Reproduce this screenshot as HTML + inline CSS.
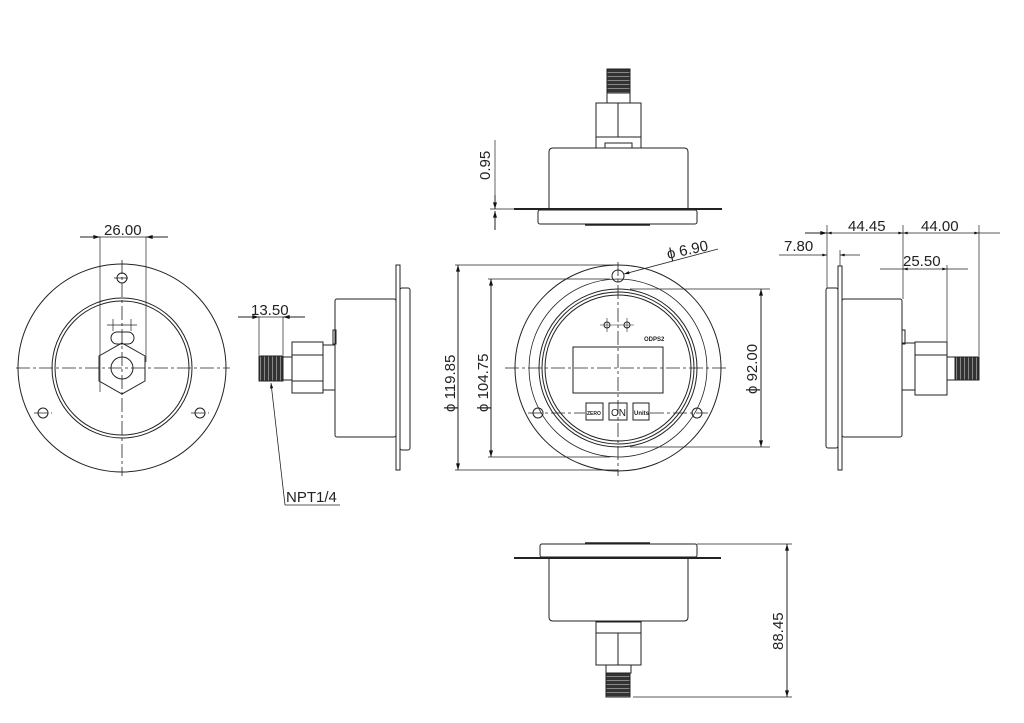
<!DOCTYPE html>
<html><head><meta charset="utf-8"><style>
html,body{margin:0;padding:0;background:#fff;}
svg{display:block;}
text{font-family:"Liberation Sans",sans-serif;font-size:15px;fill:#222;}
</style></head><body>
<svg width="1024" height="723" viewBox="0 0 1024 723" xmlns="http://www.w3.org/2000/svg">
<defs>
<marker id="a" viewBox="0 0 10 6" refX="10" refY="3" markerWidth="8" markerHeight="4" orient="auto-start-reverse"><path d="M0,0L10,3L0,6z" fill="#111"/></marker>
<pattern id="th" width="4" height="4" patternUnits="userSpaceOnUse"><rect width="4" height="4" fill="#333"/><rect width="1" height="4" fill="#888"/></pattern>
<pattern id="tv" width="4" height="4" patternUnits="userSpaceOnUse"><rect width="4" height="4" fill="#333"/><rect width="4" height="1" fill="#888"/></pattern>
</defs>
<g fill="none" stroke="#222" stroke-width="1">

<!-- LEFT FRONT (back) VIEW -->
<circle cx="122" cy="368" r="104"/>
<circle cx="122" cy="368" r="70"/>
<circle cx="122" cy="368" r="67"/>
<polygon points="122,343 145,356 145,381 122,394 99,381 99,356"/>
<circle cx="122" cy="368" r="11"/>
<rect x="111" y="332" width="23" height="12" rx="6"/>
<circle cx="122" cy="278" r="5"/>
<circle cx="43" cy="413" r="5"/>
<circle cx="200" cy="413" r="5"/>
<g stroke-dasharray="14,3,3,3" stroke-width="0.8">
<line x1="16" y1="368" x2="230" y2="368"/>
<line x1="122" y1="260" x2="122" y2="476"/>
<line x1="34" y1="413" x2="52" y2="413"/><line x1="191" y1="413" x2="209" y2="413"/>
<line x1="114" y1="278" x2="130" y2="278"/>
</g>
<line x1="107" y1="325" x2="137" y2="325" stroke-width="0.7"/>
<line x1="113" y1="319" x2="113" y2="331" stroke-width="0.7"/><line x1="131" y1="319" x2="131" y2="331" stroke-width="0.7"/>
<line x1="100" y1="392" x2="100" y2="237" stroke-width="0.7"/>
<line x1="146" y1="362" x2="146" y2="237" stroke-width="0.7"/>
<line x1="80" y1="237" x2="100" y2="237" marker-end="url(#a)"/>
<line x1="168" y1="237" x2="146" y2="237" marker-end="url(#a)"/>
<line x1="100" y1="237" x2="146" y2="237" stroke-width="0.7"/>

<!-- LEFT SIDE VIEW -->
<rect x="396" y="265" width="4" height="205"/>
<rect x="400" y="288" width="10" height="162" rx="2"/>
<rect x="335" y="299" width="61" height="138" rx="2"/>
<rect x="333" y="330" width="3" height="14"/>
<rect x="323" y="345" width="12" height="45"/>
<rect x="292" y="342" width="31" height="51"/>
<line x1="292" y1="355" x2="323" y2="355"/><line x1="292" y1="381" x2="323" y2="381"/>
<rect x="283" y="357" width="9" height="23"/>
<rect x="259" y="356" width="24" height="25" fill="url(#th)"/>
<line x1="259" y1="355" x2="259" y2="317" stroke-width="0.7"/>
<line x1="283" y1="355" x2="283" y2="317" stroke-width="0.7"/>
<line x1="238" y1="317" x2="259" y2="317" marker-end="url(#a)"/>
<line x1="305" y1="317" x2="283" y2="317" marker-end="url(#a)"/>
<line x1="259" y1="317" x2="283" y2="317" stroke-width="0.7"/>
<line x1="285" y1="505" x2="271" y2="383" marker-end="url(#a)" stroke-width="0.8"/>
<line x1="285" y1="505" x2="340" y2="505" stroke-width="0.8"/>

<!-- TOP VIEW -->
<line x1="514" y1="209" x2="722" y2="209" stroke-width="2"/>
<path d="M549,209 V152 Q549,148 553,148 H684 Q688,148 688,152 V209"/>
<rect x="538" y="210" width="159" height="14" rx="2"/>
<line x1="585" y1="225" x2="650" y2="225" stroke-width="1.5"/>
<rect x="596" y="137" width="45" height="11"/>
<rect x="605" y="143" width="27" height="5"/>
<rect x="596" y="103" width="45" height="34"/>
<line x1="618" y1="103" x2="618" y2="137"/>
<rect x="607" y="93" width="23" height="10"/>
<rect x="607" y="69" width="23" height="24" fill="url(#tv)"/>
<line x1="495" y1="140" x2="495" y2="200" stroke-width="0.7"/>
<line x1="495" y1="195" x2="495" y2="209" marker-end="url(#a)"/>
<line x1="495" y1="230" x2="495" y2="211" marker-end="url(#a)"/>
<line x1="490" y1="209" x2="514" y2="209" stroke-width="0.7"/>

<!-- FRONT VIEW -->
<circle cx="618" cy="368" r="103"/>
<circle cx="618" cy="368" r="89" stroke-width="0.8"/>
<circle cx="618" cy="368" r="79"/>
<circle cx="618" cy="368" r="76"/>
<circle cx="618" cy="368" r="73"/>
<circle cx="618" cy="276" r="6"/>
<circle cx="538" cy="413" r="5"/>
<circle cx="697" cy="413" r="5"/>
<circle cx="607" cy="325" r="3"/><circle cx="627" cy="325" r="3"/>
<line x1="600" y1="325" x2="634" y2="325" stroke-width="0.6"/>
<line x1="607" y1="318" x2="607" y2="332" stroke-width="0.6"/><line x1="627" y1="318" x2="627" y2="332" stroke-width="0.6"/>
<rect x="573" y="347" width="90" height="46"/>
<rect x="586" y="403" width="17" height="17"/>
<rect x="609" y="403" width="18" height="17"/>
<rect x="633" y="403" width="16" height="17"/>
<g stroke-dasharray="14,3,3,3" stroke-width="0.8">
<line x1="505" y1="368" x2="728" y2="368"/>
<line x1="618" y1="262" x2="618" y2="476"/>
<line x1="528" y1="413" x2="585" y2="413"/>
<line x1="650" y1="413" x2="708" y2="413"/>
</g>
<!-- dims -->
<line x1="455" y1="265" x2="618" y2="265" stroke-width="0.7"/>
<line x1="455" y1="470" x2="618" y2="470" stroke-width="0.7"/>
<line x1="458" y1="368" x2="458" y2="265" marker-end="url(#a)"/>
<line x1="458" y1="368" x2="458" y2="470" marker-end="url(#a)"/>
<line x1="488" y1="279" x2="610" y2="279" stroke-width="0.7"/>
<line x1="488" y1="457" x2="610" y2="457" stroke-width="0.7"/>
<line x1="491" y1="368" x2="491" y2="279" marker-end="url(#a)"/>
<line x1="491" y1="368" x2="491" y2="457" marker-end="url(#a)"/>
<line x1="630" y1="289" x2="770" y2="289" stroke-width="0.7"/>
<line x1="630" y1="447" x2="770" y2="447" stroke-width="0.7"/>
<line x1="761" y1="368" x2="761" y2="289" marker-end="url(#a)"/>
<line x1="761" y1="368" x2="761" y2="447" marker-end="url(#a)"/>
<line x1="718" y1="249" x2="624" y2="274" marker-end="url(#a)" stroke-width="0.8"/>

<!-- BOTTOM VIEW -->
<rect x="540" y="544" width="157" height="13" rx="2"/>
<line x1="585" y1="543" x2="650" y2="543" stroke-width="1.5"/>
<line x1="514" y1="558" x2="721" y2="558" stroke-width="2"/>
<path d="M549,559 V617 Q549,621 553,621 H684 Q688,621 688,617 V559"/>
<rect x="596" y="622" width="45" height="11"/>
<rect x="596" y="633" width="45" height="32"/>
<line x1="618" y1="633" x2="618" y2="665"/>
<rect x="606" y="665" width="25" height="8"/>
<rect x="606" y="673" width="24" height="24" fill="url(#tv)"/>
<line x1="697" y1="544" x2="792" y2="544" stroke-width="0.7"/>
<line x1="633" y1="697" x2="792" y2="697" stroke-width="0.7"/>
<line x1="787" y1="620" x2="787" y2="544" marker-end="url(#a)"/>
<line x1="787" y1="620" x2="787" y2="697" marker-end="url(#a)"/>

<!-- RIGHT SIDE VIEW -->
<rect x="838" y="266" width="4" height="204"/>
<rect x="826" y="288" width="12" height="160" rx="2"/>
<rect x="842" y="299" width="60" height="138" rx="2"/>
<rect x="902" y="330" width="3" height="14"/>
<rect x="902" y="343" width="13" height="47"/>
<rect x="915" y="342" width="32" height="53"/>
<line x1="915" y1="355" x2="947" y2="355"/>
<rect x="947" y="357" width="8" height="23"/>
<rect x="955" y="357" width="24" height="23" fill="url(#th)"/>
<line x1="827" y1="288" x2="827" y2="225" stroke-width="0.7"/>
<line x1="903" y1="299" x2="903" y2="225" stroke-width="0.7"/>
<line x1="979" y1="356" x2="979" y2="225" stroke-width="0.7"/>
<line x1="840" y1="266" x2="840" y2="250" stroke-width="0.7"/>
<line x1="947" y1="342" x2="947" y2="265" stroke-width="0.7"/>
<line x1="805" y1="233" x2="827" y2="233" marker-end="url(#a)"/>
<line x1="827" y1="233" x2="903" y2="233" marker-end="url(#a)" marker-start="url(#a)" stroke-width="0.7"/>
<line x1="903" y1="233" x2="979" y2="233" marker-start="url(#a)" marker-end="url(#a)" stroke-width="0.7"/>
<line x1="979" y1="233" x2="1000" y2="233" stroke-width="0.7"/>
<line x1="779" y1="255" x2="827" y2="255" marker-end="url(#a)" stroke-width="0.7"/>
<line x1="860" y1="255" x2="840" y2="255" marker-end="url(#a)" stroke-width="0.7"/>
<line x1="880" y1="269" x2="903" y2="269" stroke-width="0.7"/>
<line x1="903" y1="269" x2="947" y2="269" marker-start="url(#a)" marker-end="url(#a)" stroke-width="0.7"/>
<line x1="947" y1="269" x2="968" y2="269" stroke-width="0.7"/>
</g>

<!-- TEXT -->
<text x="104" y="235">26.00</text>
<text x="251" y="315">13.50</text>
<text x="286" y="502">NPT1/4</text>
<text x="490" y="180" transform="rotate(-90 490 180)">0.95</text>
<text x="455" y="412" transform="rotate(-90 455 412)">ϕ 119.85</text>
<text x="488" y="412" transform="rotate(-90 488 412)">ϕ 104.75</text>
<text x="757" y="394" transform="rotate(-90 757 394)">ϕ 92.00</text>
<text x="668" y="259" transform="rotate(-12 668 259)">ϕ 6.90</text>
<text x="783" y="650" transform="rotate(-90 783 650)">88.45</text>
<text x="848" y="231">44.45</text>
<text x="921" y="231">44.00</text>
<text x="784" y="251">7.80</text>
<text x="903" y="266">25.50</text>
<text x="644" y="341" style="font-size:6px;font-weight:bold">ODPS2</text>
<text x="587" y="415" style="font-size:5px;font-weight:bold">ZERO</text>
<text x="611" y="416" style="font-size:10px">ON</text>
<text x="634" y="415" style="font-size:6px;font-weight:bold">Units</text>
</svg>
</body></html>
